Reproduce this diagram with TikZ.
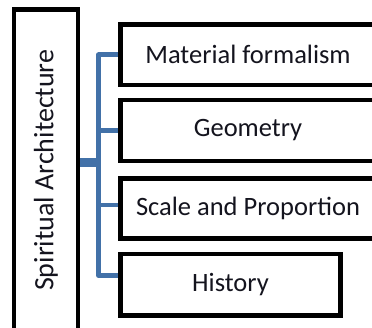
\documentclass[tikz,border=0pt]{standalone}
\usepackage{fontspec}
\setmainfont{Carlito}
\usetikzlibrary{backgrounds}
\definecolor{connblue}{RGB}{66,113,168}
\definecolor{txt}{RGB}{20,20,30}
\tikzset{
  box/.style={draw=black, line width=4.5pt, fill=white, inner sep=0pt, text=txt, font=\fontsize{26.5}{30}\selectfont},
  conn/.style={draw=connblue, line width=4.5pt, line join=round},
}
\begin{document}
\begin{tikzpicture}[x=1pt, y=-1pt]
\useasboundingbox (0,0) rectangle (372,328);
\clip (0,0) rectangle (372,328);
\node[box, minimum width=64pt, minimum height=321.5pt] (L) at (46,170.25) {\rotatebox{90}{\fontsize{28}{32}\selectfont Spiritual Architecture}};
\node[box, minimum width=255pt, minimum height=60.5pt] (b1) at (248,54.75) {Material formalism};
\node[box, minimum width=255pt, minimum height=61pt] (b2) at (248,130.5) {Geometry};
\node[box, minimum width=255pt, minimum height=60pt] (b3) at (248,208.5) {Scale and Proportion};
\node[box, minimum width=220pt, minimum height=61.5pt] (b4) at (230.5,284.75) {History};
\coordinate (J) at (98.5,162.5);
\coordinate (b3in) at ([yshift=3.5pt]b3.west);
\coordinate (b4in) at ([yshift=9.25pt]b4.west);
\begin{scope}[on background layer]
\draw[conn, line width=9pt] (L.east |- J) -- ([xshift=2.25pt]J);
\draw[conn] (b1.west) -| (J) |- (b4in);
\draw[conn] (J |- b2.west) -- (b2.west);
\draw[conn] (J |- b3in) -- (b3in);
\end{scope}
\end{tikzpicture}
\end{document}
